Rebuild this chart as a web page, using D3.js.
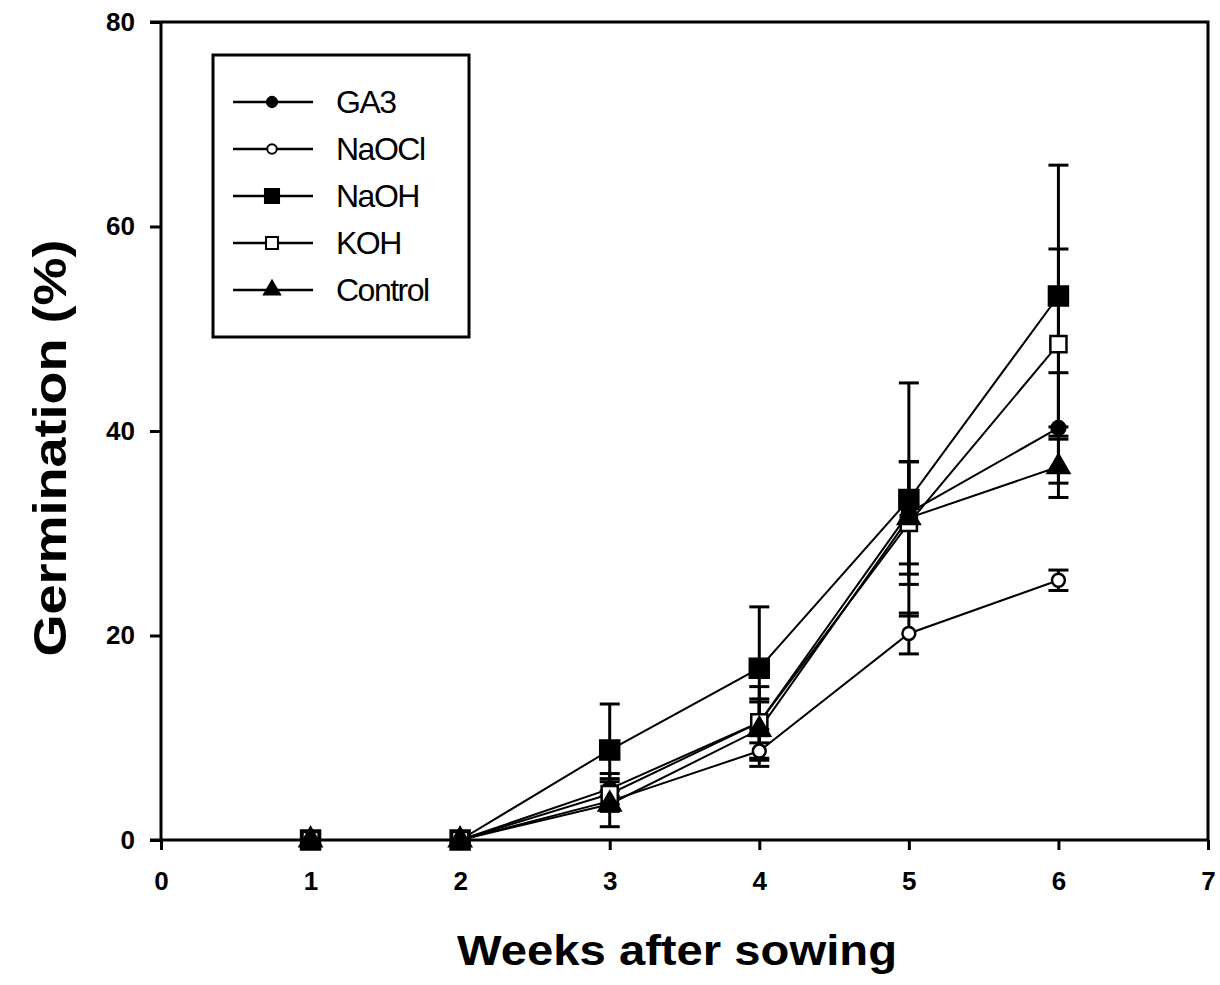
<!DOCTYPE html>
<html>
<head>
<meta charset="utf-8">
<script src="https://cdn.jsdelivr.net/npm/d3@7"></script>
<style>
  body { margin: 0; background: #fff; }
  text { font-family: "Liberation Sans", Arial, sans-serif; fill: #000; }
</style>
</head>
<body>
<div id="chart-area"></div>
<script>
// Germination vs weeks after sowing

var weeks = [1, 2, 3, 4, 5, 6];
var seriesNames = ["GA3", "NaOCl", "NaOH", "KOH", "Control"];
var ga3 = [0, 0, 5.0, 11.5, 32.0, 40.3];
var naocl = [0, 0, 3.8, 8.7, 20.2, 25.4];
var naoh = [0, 0, 8.8, 16.8, 33.3, 53.2];
var koh = [0, 0, 4.5, 11.5, 31.0, 48.5];
var control = [0, 0, 3.5, 10.8, 31.5, 36.5];
var ga3Err = [0, 0, 1.5, 2.0, 5.0, 5.4];
var naoclErr = [0, 0, 1.0, 1.5, 2.0, 1.0];
var naohErr = [0, 0, 4.5, 6.0, 11.4, 12.8];
var kohErr = [0, 0, 1.5, 3.5, 6.0, 9.3];
var controlErr = [0, 0, 2.2, 3.0, 5.5, 3.0];
var xTicks = [0, 1, 2, 3, 4, 5, 6, 7];
var yTicks = [0, 20, 40, 60, 80];

var symbols = {
  "GA3": { shape: d3.symbolCircle, fill: "#000", size: 150 },
  "NaOCl": { shape: d3.symbolCircle, fill: "#fff", size: 130 },
  "NaOH": { shape: d3.symbolSquare, fill: "#000", size: 360 },
  "KOH": { shape: d3.symbolSquare, fill: "#fff", size: 260 },
  "Control": { shape: d3.symbolTriangle, fill: "#000", size: 200 }
};

var allVals = [ga3, naocl, naoh, koh, control];
var allErr = [ga3Err, naoclErr, naohErr, kohErr, controlErr];
var series = seriesNames.map(function(name, i) {
  return {
    name: name,
    points: weeks.map(function(w, j) {
      return { week: w, value: allVals[i][j], err: allErr[i][j] };
    })
  };
});

var margin = { left: 161, right: 12, top: 22, bottom: 145 };
var width = 1220 - margin.left - margin.right,
    height = 985 - margin.top - margin.bottom;

var svg = d3.select("#chart-area")
    .append("svg")
    .attr("width", 1220)
    .attr("height", 985);
var g = svg.append("g")
    .attr("transform", "translate(" + margin.left + "," + margin.top + ")");

// Scales
var x = d3.scaleLinear().domain([0, 7]).range([0, width]);
var y = d3.scaleLinear().domain([0, 80]).range([height, 0]);

// Frame (top and right)
g.append("path")
    .attr("d", "M-11,0H" + width + "V" + height)
    .attr("fill", "none")
    .attr("stroke", "#000")
    .attr("stroke-width", 3);

// Axes
var xAxisCall = d3.axisBottom(x).tickValues(xTicks).tickSize(10).tickPadding(22).tickFormat(d3.format("d"));
var xAxis = g.append("g")
    .attr("transform", "translate(0," + height + ")")
    .call(xAxisCall);
var yAxisCall = d3.axisLeft(y).tickValues(yTicks).tickSize(11).tickPadding(15).tickFormat(d3.format("d"));
var yAxis = g.append("g").call(yAxisCall);

[xAxis, yAxis].forEach(function(ax) {
  ax.select(".domain").attr("stroke-width", 3).attr("stroke", "#000");
  ax.selectAll(".tick line").attr("stroke-width", 3).attr("stroke", "#000");
  ax.selectAll(".tick text")
    .attr("font-size", "26px")
    .attr("font-weight", "bold")
    .attr("font-family", "'Liberation Sans', Arial, sans-serif");
});
yAxis.select(".domain").attr("d", "M0," + height + "V0");
xAxis.select(".domain").attr("d", "M-11,0H" + width);

// Axis labels
svg.append("text")
    .attr("x", 677)
    .attr("y", 965)
    .attr("text-anchor", "middle")
    .attr("font-size", "42px")
    .attr("font-weight", "bold")
    .attr("textLength", 440)
    .attr("lengthAdjust", "spacingAndGlyphs")
    .text("Weeks after sowing");

svg.append("text")
    .attr("transform", "translate(66,448) rotate(-90)")
    .attr("text-anchor", "middle")
    .attr("font-size", "46px")
    .attr("font-weight", "bold")
    .attr("textLength", 417)
    .attr("lengthAdjust", "spacingAndGlyphs")
    .text("Germination (%)");

// Lines
var line = d3.line()
    .x(function(d) { return x(d.week); })
    .y(function(d) { return y(d.value); });

g.selectAll(".series-line")
    .data(series)
    .enter()
    .append("path")
    .attr("class", "series-line")
    .attr("d", function(d) { return line(d.points); })
    .attr("fill", "none")
    .attr("stroke", "#000")
    .attr("stroke-width", 2);

// Error bars
var errGroups = g.selectAll(".err")
    .data(series)
    .enter()
    .append("g")
    .attr("class", "err");

var errPts = errGroups.selectAll("g")
    .data(function(d) { return d.points.filter(function(p) { return p.err > 0; }); })
    .enter()
    .append("g");

errPts.append("line")
    .attr("x1", function(d) { return x(d.week); })
    .attr("x2", function(d) { return x(d.week); })
    .attr("y1", function(d) { return y(d.value + d.err); })
    .attr("y2", function(d) { return y(d.value - d.err); })
    .attr("stroke", "#000")
    .attr("stroke-width", 3);

[1, -1].forEach(function(sign) {
  errPts.append("line")
      .attr("x1", function(d) { return x(d.week) - 10; })
      .attr("x2", function(d) { return x(d.week) + 10; })
      .attr("y1", function(d) { return y(d.value + sign * d.err); })
      .attr("y2", function(d) { return y(d.value + sign * d.err); })
      .attr("stroke", "#000")
      .attr("stroke-width", 3);
});

// Markers
var sym = d3.symbol();
g.selectAll(".markers")
    .data(series)
    .enter()
    .append("g")
    .attr("class", "markers")
    .selectAll("path")
    .data(function(d) { return d.points.map(function(p) { return { name: d.name, p: p }; }); })
    .enter()
    .append("path")
    .attr("transform", function(d) { return "translate(" + x(d.p.week) + "," + y(d.p.value) + ")"; })
    .attr("d", function(d) { return sym.type(symbols[d.name].shape).size(symbols[d.name].size)(); })
    .attr("fill", function(d) { return symbols[d.name].fill; })
    .attr("stroke", "#000")
    .attr("stroke-width", 2.5);

// Legend
var legend = svg.append("g").attr("transform", "translate(213,55)");
legend.append("rect")
    .attr("width", 256)
    .attr("height", 282)
    .attr("fill", "#fff")
    .attr("stroke", "#000")
    .attr("stroke-width", 3);

var items = legend.selectAll(".item")
    .data(seriesNames)
    .enter()
    .append("g")
    .attr("class", "item")
    .attr("transform", function(d, i) { return "translate(0," + (47 + i * 47) + ")"; });

items.append("line")
    .attr("x1", 20).attr("x2", 100)
    .attr("stroke", "#000")
    .attr("stroke-width", 2.5);

items.append("path")
    .attr("transform", "translate(59,0)")
    .attr("d", function(d) { return sym.type(symbols[d].shape).size(symbols[d].size * 0.55)(); })
    .attr("fill", function(d) { return symbols[d].fill; })
    .attr("stroke", "#000")
    .attr("stroke-width", 2);

items.append("text")
    .attr("x", 123)
    .attr("y", 11)
    .attr("font-size", "32px")
    .attr("letter-spacing", "-1.5px")
    .text(function(d) { return d; });
</script>
</body>
</html>
